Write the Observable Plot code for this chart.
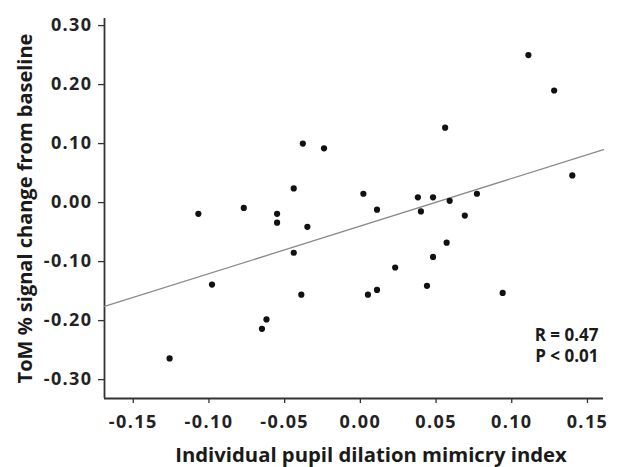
<!DOCTYPE html>
<html>
<head>
<meta charset="utf-8">
<script src="https://cdn.jsdelivr.net/npm/d3@7"></script>
<script src="https://cdn.jsdelivr.net/npm/@observablehq/plot@0.6"></script>
<style>
  body { margin: 0; background: #fff; }
  g[aria-label="y-axis tick label"] text, g[aria-label="x-axis tick label"] text { letter-spacing: 1.4px; }
  g[aria-label="stats"] text { letter-spacing: 1.2px; }
  g[aria-label="y-label"] text { letter-spacing: 1.0px; }
</style>
</head>
<body>
<div id="chart"></div>
<script>
const pupilIndex = [-0.107, -0.077, -0.055, -0.055, -0.044, -0.038, -0.035, -0.024, 0.002, 0.011, 0.038, 0.040, 0.048, 0.056, 0.059, 0.069, 0.077, 0.111, 0.128, 0.140, 0.057, -0.044, -0.098, -0.039, -0.062, -0.065, -0.126, 0.048, 0.023, 0.005, 0.011, 0.044, 0.094];
const tomSignal = [-0.019, -0.009, -0.019, -0.034, 0.024, 0.100, -0.041, 0.092, 0.015, -0.012, 0.009, -0.015, 0.009, 0.127, 0.003, -0.022, 0.015, 0.250, 0.190, 0.046, -0.068, -0.085, -0.139, -0.156, -0.198, -0.214, -0.264, -0.092, -0.110, -0.156, -0.148, -0.141, -0.153];
const fitX = [-0.169, 0.1606];
const fitY = [-0.176, 0.0898];
const xTicks = [-0.15, -0.10, -0.05, 0.00, 0.05, 0.10, 0.15];
const yTicks = [-0.30, -0.20, -0.10, 0.00, 0.10, 0.20, 0.30];
const xDomain = [-0.169, 0.1606];
const yDomain = [-0.332, 0.312];
const xLabel = "Individual pupil dilation mimicry index";
const yLabel = "ToM % signal change from baseline";
const statLines = ["R = 0.47", "P < 0.01"];

const points = pupilIndex.map((x, i) => ({x, y: tomSignal[i]}));
const fit = fitX.map((x, i) => ({x, y: fitY[i]}));
const fmt = d => d.toFixed(2);
const font = "'Open Sans', sans-serif";

const chart = Plot.plot({
  width: 622,
  height: 467,
  marginLeft: 104,
  marginRight: 19,
  marginTop: 18,
  marginBottom: 69,
  style: {fontFamily: font, fontSize: "18px", fontWeight: "bold", color: "#222", background: "#fff"},
  x: {domain: xDomain},
  y: {domain: yDomain},
  marks: [
    Plot.axisY({ticks: yTicks, tickFormat: fmt, tickSize: 6, tickPadding: 6, label: null, fontSize: 18, fontWeight: "bold", stroke: "#333", strokeWidth: 1.3}),
    Plot.axisX({ticks: xTicks, tickFormat: fmt, tickSize: 5, tickPadding: 12, label: null, fontSize: 18, fontWeight: "bold", stroke: "#333", strokeWidth: 1.3}),
    Plot.ruleX([xDomain[0]], {stroke: "#333", strokeWidth: 1.8}),
    Plot.ruleY([yDomain[0]], {stroke: "#333", strokeWidth: 1.8}),
    Plot.line(fit, {x: "x", y: "y", stroke: "#8a8a8a", strokeWidth: 1.3}),
    Plot.dot(points, {x: "x", y: "y", r: 3.1, fill: "#111", stroke: "none"}),
    Plot.text([xLabel], {frameAnchor: "bottom", dx: 17, dy: 57, textAnchor: "middle", lineAnchor: "middle", fontSize: 20.3, fontWeight: "bold", fill: "#1a1a1a"}),
    Plot.text([yLabel], {frameAnchor: "left", dx: -79, dy: 0, rotate: -90, textAnchor: "middle", lineAnchor: "middle", fontSize: 20, fontWeight: "bold", fill: "#1a1a1a", ariaLabel: "y-label"}),
    Plot.text([statLines.join("\n")], {frameAnchor: "bottom-right", dx: -5, dy: -72, textAnchor: "end", lineAnchor: "top", lineHeight: 1.235, fontSize: 17, fontWeight: "bold", fill: "#1a1a1a", ariaLabel: "stats"})
  ]
});

document.getElementById("chart").appendChild(chart);

// italicize the statistic symbol (first letter of each line)
const ns = "http://www.w3.org/2000/svg";
chart.querySelectorAll('g[aria-label="stats"] text').forEach(t => {
  let lines = Array.from(t.querySelectorAll("tspan"));
  if (lines.length === 0) lines = [t];
  lines.forEach(el => {
    const s = el.textContent;
    el.textContent = "";
    const a = document.createElementNS(ns, "tspan");
    a.setAttribute("font-style", "italic");
    a.style.fontStyle = "italic";
    a.textContent = s.slice(0, 1);
    el.appendChild(a);
    el.appendChild(document.createTextNode(s.slice(1)));
  });
});
</script>
</body>
</html>
